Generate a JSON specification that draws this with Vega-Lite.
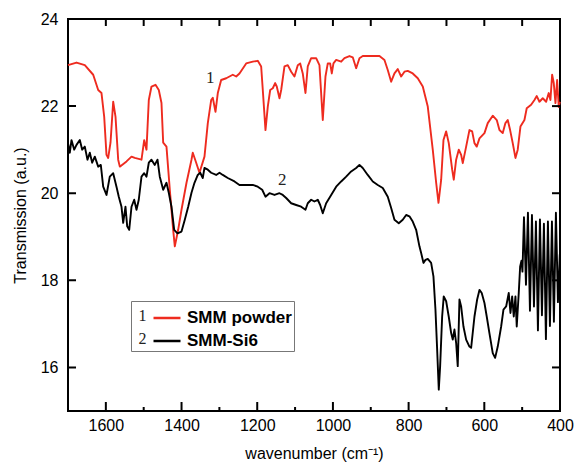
{
"$schema": "https://vega.github.io/schema/vega-lite/v6.json",
"width": 492, "height": 392,
"autosize": {"type": "none"},
"padding": {"left": 68, "top": 19, "right": 16, "bottom": 58},
"background": "white",
"config": {
 "view": {"stroke": "black", "strokeWidth": 2},
 "axis": {"domain": false, "ticks": false, "grid": false,
  "labelFont": "Liberation Sans", "labelFontSize": 16, "labelColor": "black",
  "titleFont": "Liberation Sans", "titleFontSize": 16, "titleFontWeight": "normal", "titleColor": "black"}
},
"datasets": {
 "spec": [
{"s":"SMM powder","w":1700,"t":22.94},{"s":"SMM powder","w":1677.5,"t":23.0},{"s":"SMM powder","w":1655.6,"t":22.94},{"s":"SMM powder","w":1633.4,"t":22.72},{"s":"SMM powder","w":1620.2,"t":22.37},{"s":"SMM powder","w":1611.5,"t":22.3},{"s":"SMM powder","w":1604.4,"t":21.76},{"s":"SMM powder","w":1598.3,"t":20.88},{"s":"SMM powder","w":1593.8,"t":20.81},{"s":"SMM powder","w":1587.7,"t":21.16},{"s":"SMM powder","w":1580.6,"t":22.1},{"s":"SMM powder","w":1574.5,"t":21.76},{"s":"SMM powder","w":1567.4,"t":20.77},{"s":"SMM powder","w":1563.1,"t":20.61},{"s":"SMM powder","w":1545.4,"t":20.73},{"s":"SMM powder","w":1532.2,"t":20.84},{"s":"SMM powder","w":1523.5,"t":20.81},{"s":"SMM powder","w":1505.8,"t":20.77},{"s":"SMM powder","w":1498.7,"t":21.22},{"s":"SMM powder","w":1492.6,"t":21.0},{"s":"SMM powder","w":1486.5,"t":22.14},{"s":"SMM powder","w":1479.4,"t":22.45},{"s":"SMM powder","w":1468.8,"t":22.49},{"s":"SMM powder","w":1460.1,"t":22.37},{"s":"SMM powder","w":1453.0,"t":22.07},{"s":"SMM powder","w":1448.5,"t":21.16},{"s":"SMM powder","w":1439.8,"t":21.07},{"s":"SMM powder","w":1431.0,"t":20.08},{"s":"SMM powder","w":1422.1,"t":19.16},{"s":"SMM powder","w":1417.8,"t":18.78},{"s":"SMM powder","w":1408.9,"t":19.16},{"s":"SMM powder","w":1400.1,"t":19.62},{"s":"SMM powder","w":1386.9,"t":20.24},{"s":"SMM powder","w":1373.7,"t":20.77},{"s":"SMM powder","w":1370.3,"t":20.93},{"s":"SMM powder","w":1361.3,"t":20.7},{"s":"SMM powder","w":1352.6,"t":20.47},{"s":"SMM powder","w":1339.4,"t":20.84},{"s":"SMM powder","w":1330.6,"t":21.61},{"s":"SMM powder","w":1321.7,"t":22.14},{"s":"SMM powder","w":1317.4,"t":22.19},{"s":"SMM powder","w":1310.3,"t":21.87},{"s":"SMM powder","w":1304.2,"t":22.3},{"s":"SMM powder","w":1295.3,"t":22.6},{"s":"SMM powder","w":1282.0,"t":22.64},{"s":"SMM powder","w":1264.6,"t":22.72},{"s":"SMM powder","w":1255.6,"t":22.68},{"s":"SMM powder","w":1246.9,"t":22.75},{"s":"SMM powder","w":1229.2,"t":22.98},{"s":"SMM powder","w":1211.8,"t":23.02},{"s":"SMM powder","w":1198.6,"t":23.04},{"s":"SMM powder","w":1189.6,"t":22.91},{"s":"SMM powder","w":1185.3,"t":22.37},{"s":"SMM powder","w":1178.2,"t":21.45},{"s":"SMM powder","w":1172.1,"t":21.99},{"s":"SMM powder","w":1165.8,"t":22.37},{"s":"SMM powder","w":1158.9,"t":22.41},{"s":"SMM powder","w":1152.6,"t":22.53},{"s":"SMM powder","w":1148.4,"t":22.45},{"s":"SMM powder","w":1141.2,"t":22.18},{"s":"SMM powder","w":1136.7,"t":22.37},{"s":"SMM powder","w":1128.0,"t":22.91},{"s":"SMM powder","w":1119.3,"t":22.94},{"s":"SMM powder","w":1110.3,"t":22.79},{"s":"SMM powder","w":1101.6,"t":22.68},{"s":"SMM powder","w":1092.9,"t":22.94},{"s":"SMM powder","w":1086.5,"t":22.98},{"s":"SMM powder","w":1079.7,"t":22.75},{"s":"SMM powder","w":1072.5,"t":22.3},{"s":"SMM powder","w":1066.5,"t":22.91},{"s":"SMM powder","w":1057.5,"t":23.1},{"s":"SMM powder","w":1044.3,"t":23.1},{"s":"SMM powder","w":1035.6,"t":22.94},{"s":"SMM powder","w":1026.8,"t":21.68},{"s":"SMM powder","w":1019.7,"t":22.68},{"s":"SMM powder","w":1013.6,"t":22.98},{"s":"SMM powder","w":1007.3,"t":22.98},{"s":"SMM powder","w":1003.0,"t":22.75},{"s":"SMM powder","w":998.6,"t":22.98},{"s":"SMM powder","w":991.4,"t":23.06},{"s":"SMM powder","w":978.2,"t":23.02},{"s":"SMM powder","w":969.5,"t":23.1},{"s":"SMM powder","w":956.3,"t":23.15},{"s":"SMM powder","w":947.6,"t":23.12},{"s":"SMM powder","w":938.6,"t":22.87},{"s":"SMM powder","w":929.9,"t":23.1},{"s":"SMM powder","w":921.2,"t":23.15},{"s":"SMM powder","w":877.0,"t":23.15},{"s":"SMM powder","w":863.8,"t":23.06},{"s":"SMM powder","w":855.1,"t":22.83},{"s":"SMM powder","w":846.1,"t":22.56},{"s":"SMM powder","w":837.4,"t":22.75},{"s":"SMM powder","w":828.7,"t":22.85},{"s":"SMM powder","w":819.7,"t":22.68},{"s":"SMM powder","w":811.0,"t":22.79},{"s":"SMM powder","w":802.3,"t":22.81},{"s":"SMM powder","w":789.1,"t":22.75},{"s":"SMM powder","w":775.8,"t":22.64},{"s":"SMM powder","w":762.6,"t":22.45},{"s":"SMM powder","w":749.4,"t":21.99},{"s":"SMM powder","w":736.2,"t":21.0},{"s":"SMM powder","w":727.2,"t":20.24},{"s":"SMM powder","w":721.1,"t":19.78},{"s":"SMM powder","w":714.0,"t":20.31},{"s":"SMM powder","w":707.9,"t":21.22},{"s":"SMM powder","w":700.8,"t":21.42},{"s":"SMM powder","w":693.9,"t":21.15},{"s":"SMM powder","w":684.9,"t":20.54},{"s":"SMM powder","w":680.7,"t":20.31},{"s":"SMM powder","w":674.4,"t":20.77},{"s":"SMM powder","w":667.5,"t":21.0},{"s":"SMM powder","w":661.2,"t":20.88},{"s":"SMM powder","w":656.9,"t":20.69},{"s":"SMM powder","w":648.0,"t":21.07},{"s":"SMM powder","w":639.3,"t":21.45},{"s":"SMM powder","w":632.1,"t":21.42},{"s":"SMM powder","w":626.0,"t":21.15},{"s":"SMM powder","w":620.0,"t":21.07},{"s":"SMM powder","w":612.8,"t":21.26},{"s":"SMM powder","w":599.6,"t":21.38},{"s":"SMM powder","w":590.9,"t":21.61},{"s":"SMM powder","w":577.7,"t":21.78},{"s":"SMM powder","w":567.1,"t":21.68},{"s":"SMM powder","w":560.0,"t":21.45},{"s":"SMM powder","w":551.3,"t":21.38},{"s":"SMM powder","w":544.2,"t":21.61},{"s":"SMM powder","w":538.1,"t":21.68},{"s":"SMM powder","w":531.8,"t":21.45},{"s":"SMM powder","w":524.9,"t":21.15},{"s":"SMM powder","w":517.7,"t":20.81},{"s":"SMM powder","w":511.7,"t":21.0},{"s":"SMM powder","w":504.5,"t":21.53},{"s":"SMM powder","w":494.0,"t":21.68},{"s":"SMM powder","w":487.9,"t":21.95},{"s":"SMM powder","w":476.3,"t":22.03},{"s":"SMM powder","w":467.5,"t":22.14},{"s":"SMM powder","w":461.4,"t":22.23},{"s":"SMM powder","w":454.3,"t":22.1},{"s":"SMM powder","w":445.6,"t":22.18},{"s":"SMM powder","w":436.6,"t":22.1},{"s":"SMM powder","w":429.8,"t":22.3},{"s":"SMM powder","w":425.3,"t":22.14},{"s":"SMM powder","w":420.8,"t":22.72},{"s":"SMM powder","w":416.5,"t":22.53},{"s":"SMM powder","w":412.0,"t":22.07},{"s":"SMM powder","w":407.6,"t":22.6},{"s":"SMM powder","w":403.3,"t":21.98},{"s":"SMM powder","w":400.5,"t":22.1},
{"s":"SMM-Si6","w":1700,"t":21.15},{"s":"SMM-Si6","w":1695.2,"t":20.93},{"s":"SMM-Si6","w":1690.8,"t":21.22},{"s":"SMM-Si6","w":1683.6,"t":21.0},{"s":"SMM-Si6","w":1677.5,"t":21.11},{"s":"SMM-Si6","w":1668.8,"t":21.22},{"s":"SMM-Si6","w":1662.5,"t":21.0},{"s":"SMM-Si6","w":1655.6,"t":21.07},{"s":"SMM-Si6","w":1648.5,"t":20.77},{"s":"SMM-Si6","w":1642.4,"t":20.93},{"s":"SMM-Si6","w":1636.1,"t":20.7},{"s":"SMM-Si6","w":1629.2,"t":20.84},{"s":"SMM-Si6","w":1620.2,"t":20.61},{"s":"SMM-Si6","w":1613.3,"t":20.65},{"s":"SMM-Si6","w":1607.0,"t":20.15},{"s":"SMM-Si6","w":1598.3,"t":19.96},{"s":"SMM-Si6","w":1589.6,"t":20.38},{"s":"SMM-Si6","w":1580.6,"t":20.46},{"s":"SMM-Si6","w":1571.9,"t":20.15},{"s":"SMM-Si6","w":1565.8,"t":19.92},{"s":"SMM-Si6","w":1558.7,"t":19.69},{"s":"SMM-Si6","w":1554.2,"t":19.32},{"s":"SMM-Si6","w":1548.1,"t":19.69},{"s":"SMM-Si6","w":1543.6,"t":19.24},{"s":"SMM-Si6","w":1538.3,"t":19.16},{"s":"SMM-Si6","w":1532.2,"t":19.69},{"s":"SMM-Si6","w":1525.1,"t":19.85},{"s":"SMM-Si6","w":1519.0,"t":19.62},{"s":"SMM-Si6","w":1513.0,"t":19.85},{"s":"SMM-Si6","w":1505.8,"t":20.38},{"s":"SMM-Si6","w":1498.7,"t":20.46},{"s":"SMM-Si6","w":1492.6,"t":20.38},{"s":"SMM-Si6","w":1486.5,"t":20.7},{"s":"SMM-Si6","w":1479.4,"t":20.77},{"s":"SMM-Si6","w":1470.7,"t":20.65},{"s":"SMM-Si6","w":1463.5,"t":20.77},{"s":"SMM-Si6","w":1457.5,"t":20.38},{"s":"SMM-Si6","w":1448.5,"t":20.08},{"s":"SMM-Si6","w":1439.8,"t":20.24},{"s":"SMM-Si6","w":1433.7,"t":20.01},{"s":"SMM-Si6","w":1426.6,"t":19.69},{"s":"SMM-Si6","w":1419.4,"t":19.16},{"s":"SMM-Si6","w":1410.7,"t":19.08},{"s":"SMM-Si6","w":1400.1,"t":19.12},{"s":"SMM-Si6","w":1391.4,"t":19.39},{"s":"SMM-Si6","w":1382.4,"t":19.69},{"s":"SMM-Si6","w":1373.7,"t":20.01},{"s":"SMM-Si6","w":1365.8,"t":20.24},{"s":"SMM-Si6","w":1357.1,"t":20.42},{"s":"SMM-Si6","w":1350.7,"t":20.47},{"s":"SMM-Si6","w":1343.9,"t":20.35},{"s":"SMM-Si6","w":1339.4,"t":20.58},{"s":"SMM-Si6","w":1330.6,"t":20.54},{"s":"SMM-Si6","w":1321.7,"t":20.47},{"s":"SMM-Si6","w":1308.5,"t":20.42},{"s":"SMM-Si6","w":1299.7,"t":20.47},{"s":"SMM-Si6","w":1291.0,"t":20.42},{"s":"SMM-Si6","w":1277.8,"t":20.35},{"s":"SMM-Si6","w":1260.1,"t":20.27},{"s":"SMM-Si6","w":1246.9,"t":20.19},{"s":"SMM-Si6","w":1229.2,"t":20.19},{"s":"SMM-Si6","w":1211.8,"t":20.19},{"s":"SMM-Si6","w":1198.6,"t":20.15},{"s":"SMM-Si6","w":1186.9,"t":20.08},{"s":"SMM-Si6","w":1178.2,"t":19.92},{"s":"SMM-Si6","w":1167.6,"t":20.0},{"s":"SMM-Si6","w":1154.4,"t":19.96},{"s":"SMM-Si6","w":1141.2,"t":20.0},{"s":"SMM-Si6","w":1132.5,"t":19.96},{"s":"SMM-Si6","w":1123.5,"t":19.89},{"s":"SMM-Si6","w":1110.3,"t":19.77},{"s":"SMM-Si6","w":1097.1,"t":19.73},{"s":"SMM-Si6","w":1083.9,"t":19.69},{"s":"SMM-Si6","w":1072.5,"t":19.62},{"s":"SMM-Si6","w":1066.5,"t":19.77},{"s":"SMM-Si6","w":1057.5,"t":19.85},{"s":"SMM-Si6","w":1048.8,"t":19.81},{"s":"SMM-Si6","w":1040.0,"t":19.85},{"s":"SMM-Si6","w":1033.7,"t":19.73},{"s":"SMM-Si6","w":1026.8,"t":19.54},{"s":"SMM-Si6","w":1017.9,"t":19.77},{"s":"SMM-Si6","w":1004.6,"t":19.96},{"s":"SMM-Si6","w":991.4,"t":20.15},{"s":"SMM-Si6","w":978.2,"t":20.27},{"s":"SMM-Si6","w":965.0,"t":20.38},{"s":"SMM-Si6","w":951.8,"t":20.5},{"s":"SMM-Si6","w":938.6,"t":20.58},{"s":"SMM-Si6","w":929.9,"t":20.65},{"s":"SMM-Si6","w":921.2,"t":20.58},{"s":"SMM-Si6","w":908.0,"t":20.42},{"s":"SMM-Si6","w":894.7,"t":20.27},{"s":"SMM-Si6","w":881.5,"t":20.19},{"s":"SMM-Si6","w":868.3,"t":20.12},{"s":"SMM-Si6","w":855.1,"t":19.92},{"s":"SMM-Si6","w":846.1,"t":19.66},{"s":"SMM-Si6","w":837.4,"t":19.39},{"s":"SMM-Si6","w":826.0,"t":19.31},{"s":"SMM-Si6","w":815.5,"t":19.39},{"s":"SMM-Si6","w":806.5,"t":19.5},{"s":"SMM-Si6","w":797.8,"t":19.47},{"s":"SMM-Si6","w":789.1,"t":19.35},{"s":"SMM-Si6","w":780.1,"t":19.16},{"s":"SMM-Si6","w":771.4,"t":18.78},{"s":"SMM-Si6","w":766.9,"t":18.63},{"s":"SMM-Si6","w":760.8,"t":18.4},{"s":"SMM-Si6","w":755.5,"t":18.47},{"s":"SMM-Si6","w":749.4,"t":18.49},{"s":"SMM-Si6","w":740.5,"t":18.4},{"s":"SMM-Si6","w":734.4,"t":18.09},{"s":"SMM-Si6","w":729.1,"t":17.33},{"s":"SMM-Si6","w":724.6,"t":16.41},{"s":"SMM-Si6","w":720.3,"t":15.49},{"s":"SMM-Si6","w":716.7,"t":16.03},{"s":"SMM-Si6","w":711.4,"t":17.17},{"s":"SMM-Si6","w":707.2,"t":17.63},{"s":"SMM-Si6","w":700.8,"t":17.52},{"s":"SMM-Si6","w":694.0,"t":17.17},{"s":"SMM-Si6","w":687.6,"t":16.79},{"s":"SMM-Si6","w":683.4,"t":16.64},{"s":"SMM-Si6","w":678.9,"t":16.87},{"s":"SMM-Si6","w":674.4,"t":16.56},{"s":"SMM-Si6","w":670.2,"t":16.03},{"s":"SMM-Si6","w":665.7,"t":17.56},{"s":"SMM-Si6","w":661.2,"t":17.4},{"s":"SMM-Si6","w":655.1,"t":16.94},{"s":"SMM-Si6","w":648.0,"t":16.64},{"s":"SMM-Si6","w":639.3,"t":16.48},{"s":"SMM-Si6","w":634.8,"t":16.45},{"s":"SMM-Si6","w":626.0,"t":17.17},{"s":"SMM-Si6","w":618.9,"t":17.56},{"s":"SMM-Si6","w":612.8,"t":17.78},{"s":"SMM-Si6","w":606.8,"t":17.71},{"s":"SMM-Si6","w":599.6,"t":17.48},{"s":"SMM-Si6","w":593.6,"t":17.17},{"s":"SMM-Si6","w":586.5,"t":16.79},{"s":"SMM-Si6","w":577.7,"t":16.33},{"s":"SMM-Si6","w":571.4,"t":16.22},{"s":"SMM-Si6","w":564.5,"t":16.48},{"s":"SMM-Si6","w":555.5,"t":16.94},{"s":"SMM-Si6","w":549.4,"t":17.33},{"s":"SMM-Si6","w":542.3,"t":17.4},{"s":"SMM-Si6","w":535.4,"t":17.71},{"s":"SMM-Si6","w":530.9,"t":17.25},{"s":"SMM-Si6","w":526.4,"t":17.63},{"s":"SMM-Si6","w":522.2,"t":17.17},{"s":"SMM-Si6","w":517.7,"t":17.63},{"s":"SMM-Si6","w":514.3,"t":16.94},{"s":"SMM-Si6","w":509.0,"t":17.71},{"s":"SMM-Si6","w":505.3,"t":18.32},{"s":"SMM-Si6","w":501.8,"t":18.45},{"s":"SMM-Si6","w":499.2,"t":18.2},{"s":"SMM-Si6","w":495.2,"t":19.45},{"s":"SMM-Si6","w":489.9,"t":17.9},{"s":"SMM-Si6","w":484.7,"t":19.55},{"s":"SMM-Si6","w":479.4,"t":17.3},{"s":"SMM-Si6","w":474.1,"t":19.5},{"s":"SMM-Si6","w":468.8,"t":17.4},{"s":"SMM-Si6","w":463.6,"t":19.35},{"s":"SMM-Si6","w":458.3,"t":16.85},{"s":"SMM-Si6","w":453.0,"t":19.4},{"s":"SMM-Si6","w":447.7,"t":17.2},{"s":"SMM-Si6","w":442.5,"t":19.3},{"s":"SMM-Si6","w":437.2,"t":16.65},{"s":"SMM-Si6","w":431.9,"t":19.35},{"s":"SMM-Si6","w":426.6,"t":16.95},{"s":"SMM-Si6","w":421.3,"t":19.35},{"s":"SMM-Si6","w":416.1,"t":17.05},{"s":"SMM-Si6","w":410.8,"t":19.55},{"s":"SMM-Si6","w":405.5,"t":17.5},{"s":"SMM-Si6","w":400.5,"t":18.6}
 ],
 "xmaj": [{"v":1600},{"v":1400},{"v":1200},{"v":1000},{"v":800},{"v":600}],
 "xmin": [{"v":1500},{"v":1300},{"v":1100},{"v":900},{"v":700},{"v":500}],
 "xall": [{"v":1600},{"v":1500},{"v":1400},{"v":1300},{"v":1200},{"v":1100},{"v":1000},{"v":900},{"v":800},{"v":700},{"v":600},{"v":500}],
 "ymaj": [{"v":16},{"v":18},{"v":20},{"v":22}],
 "one": [{}]
},
"layer": [
 {
  "data": {"name": "spec"},
  "mark": {"type": "line", "strokeWidth": 1.9, "strokeJoin": "round"},
  "encoding": {
   "x": {"field": "w", "type": "quantitative",
    "scale": {"domain": [1700, 400], "nice": false, "zero": false},
    "axis": {"orient": "bottom", "values": [1600,1400,1200,1000,800,600,400],
     "format": "d", "ticks": false, "grid": false, "domain": false,
     "labelPadding": 6, "labelFlush": false, "labelOverlap": false, "labelBound": false,
     "title": "wavenumber (cm⁻¹)", "titlePadding": 12}},
   "y": {"field": "t", "type": "quantitative",
    "scale": {"domain": [15, 24], "nice": false, "zero": false},
    "axis": {"orient": "left", "values": [16,18,20,22,24], "ticks": false, "grid": false, "domain": false,
     "labelPadding": 10, "labelFlush": false, "labelOverlap": false,
     "title": "Transmission (a.u.)", "titlePadding": 12}},
   "color": {"field": "s", "type": "nominal",
    "scale": {"domain": ["SMM powder", "SMM-Si6"], "range": ["#ee2b1f", "#000000"]},
    "legend": {"orient": "none", "legendX": 63, "legendY": 282, "title": null,
     "strokeColor": "#777777", "padding": 2, "cornerRadius": 0,
     "symbolType": "stroke", "symbolSize": 729, "symbolStrokeWidth": 2.5, "symbolOffset": 19,
     "labelFont": "Liberation Sans", "labelFontWeight": "bold", "labelFontSize": 17, "labelColor": "black",
     "labelOffset": 5, "rowPadding": -5}}
  }
 },
 {
  "data": {"name": "xmaj"},
  "mark": {"type": "tick", "orient": "vertical", "size": 9, "thickness": 2, "color": "black", "opacity": 1},
  "encoding": {
   "x": {"field": "v", "type": "quantitative", "axis": null},
   "y": {"datum": 15.103, "type": "quantitative", "axis": null}
  }
 },
 {
  "data": {"name": "xmin"},
  "mark": {"type": "tick", "orient": "vertical", "size": 4, "thickness": 2, "color": "black", "opacity": 1},
  "encoding": {
   "x": {"field": "v", "type": "quantitative", "axis": null},
   "y": {"datum": 15.046, "type": "quantitative", "axis": null}
  }
 },
 {
  "data": {"name": "xall"},
  "mark": {"type": "tick", "orient": "vertical", "size": 7, "thickness": 2, "color": "black", "opacity": 1},
  "encoding": {
   "x": {"field": "v", "type": "quantitative", "axis": null},
   "y": {"datum": 23.92, "type": "quantitative", "axis": null}
  }
 },
 {
  "data": {"name": "ymaj"},
  "mark": {"type": "tick", "orient": "horizontal", "size": 8, "thickness": 2, "color": "black", "opacity": 1},
  "encoding": {
   "y": {"field": "v", "type": "quantitative", "axis": null},
   "x": {"datum": 1689.4, "type": "quantitative", "axis": null}
  }
 },
 {
  "data": {"name": "ymaj"},
  "mark": {"type": "tick", "orient": "horizontal", "size": 8, "thickness": 2, "color": "black", "opacity": 1},
  "encoding": {
   "y": {"field": "v", "type": "quantitative", "axis": null},
   "x": {"datum": 410.6, "type": "quantitative", "axis": null}
  }
 },
 {
  "data": {"name": "one"},
  "mark": {"type": "text", "font": "Liberation Serif", "fontSize": 17, "color": "#222222"},
  "encoding": {
   "x": {"datum": 1324, "type": "quantitative",
    "axis": {"orient": "top", "labels": false, "ticks": false, "domain": false, "grid": false, "title": null}},
   "y": {"datum": 22.64, "type": "quantitative",
    "axis": {"orient": "right", "labels": false, "ticks": false, "domain": false, "grid": false, "title": null}},
   "text": {"value": "1"}
  }
 },
 {
  "data": {"name": "one"},
  "mark": {"type": "text", "font": "Liberation Serif", "fontSize": 17, "color": "#222222"},
  "encoding": {
   "x": {"datum": 1134, "type": "quantitative", "axis": null},
   "y": {"datum": 20.31, "type": "quantitative", "axis": null},
   "text": {"value": "2"}
  }
 },
 {
  "data": {"name": "one"},
  "mark": {"type": "text", "font": "Liberation Serif", "fontSize": 16, "color": "#222222"},
  "encoding": {
   "x": {"datum": 1503, "type": "quantitative", "axis": null},
   "y": {"datum": 17.18, "type": "quantitative", "axis": null},
   "text": {"value": "1"}
  }
 },
 {
  "data": {"name": "one"},
  "mark": {"type": "text", "font": "Liberation Serif", "fontSize": 16, "color": "#222222"},
  "encoding": {
   "x": {"datum": 1503, "type": "quantitative", "axis": null},
   "y": {"datum": 16.65, "type": "quantitative", "axis": null},
   "text": {"value": "2"}
  }
 }
]
}
